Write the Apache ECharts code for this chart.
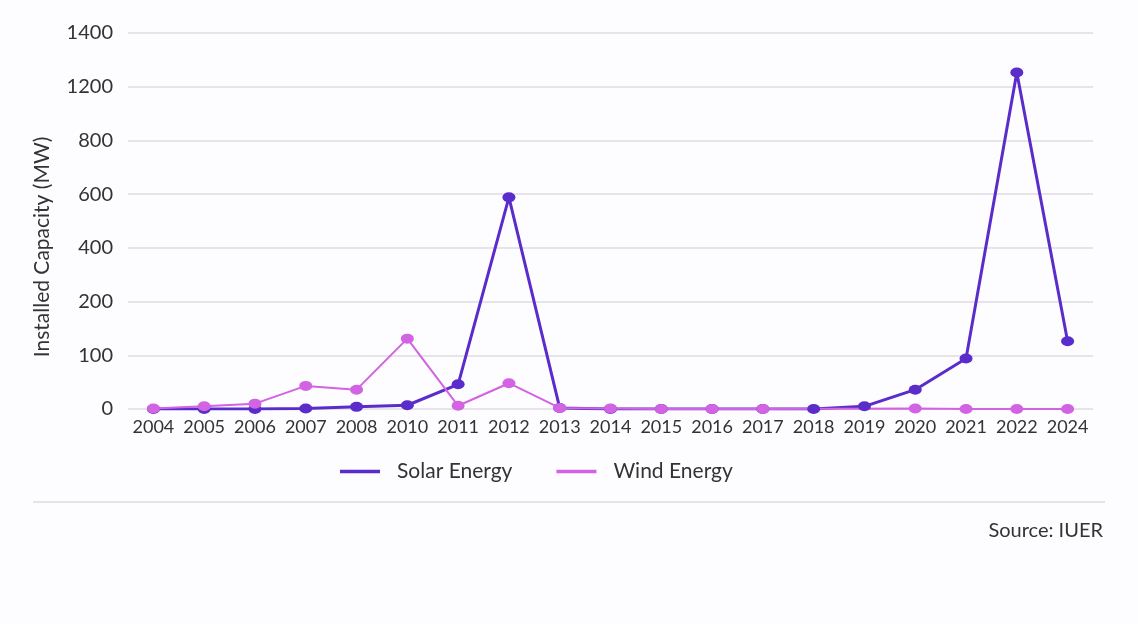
<!DOCTYPE html>
<html>
<head>
<meta charset="utf-8">
<script src="https://cdn.jsdelivr.net/npm/echarts@6/dist/echarts.min.js"></script>
<style>
html,body{margin:0;padding:0;background:#fdfcfe;}
#chart{width:1138px;height:624px;}
</style>
</head>
<body>
<div id="chart"></div>
<script>
const years = ['2004','2005','2006','2007','2008','2010','2011','2012','2013','2014','2015','2016','2017','2018','2019','2020','2021','2022','2024'];
const solarValues = [0,0,0,1,4,7,46,588,2,0,0,0,0,0,5,36,94,1253,126];
const windValues  = [1,5,10,43,36,131,6,48,2,1,0,0,0,null,null,1,0,0,0];
const yTickLabels = [0,100,200,400,600,800,1200,1400];

// piecewise mapping: each labelled tick is one evenly spaced step on the axis
function toAxis(v){
  if (v === null || v === undefined) return null;
  for (let i = 0; i < yTickLabels.length - 1; i++){
    const a = yTickLabels[i], b = yTickLabels[i+1];
    if (v <= b) return i + (v - a) / (b - a);
  }
  return yTickLabels.length - 1;
}

const SOLAR = '#5a2cc9';
const WIND = '#d263e2';
const FONT = 'Lato';

const chart = echarts.init(document.getElementById('chart'));
chart.setOption({
  backgroundColor: '#fdfcfe',
  animation: false,
  grid: {left: 128, right: 45, top: 33, bottom: 215, containLabel: false},
  xAxis: {
    type: 'category',
    data: years,
    boundaryGap: true,
    axisLine: {show: false},
    axisTick: {show: false},
    axisLabel: {interval: 0, margin: 9, color: '#333', fontFamily: FONT, fontSize: 18}
  },
  yAxis: {
    type: 'value',
    min: 0, max: yTickLabels.length - 1, interval: 1,
    axisLine: {show: false},
    axisTick: {show: false},
    splitLine: {lineStyle: {color: '#dedde0', width: 1.5}},
    axisLabel: {
      margin: 15, color: '#333', fontFamily: FONT, fontSize: 20,
      formatter: function(v){ return String(yTickLabels[Math.round(v)]); }
    }
  },
  legend: {
    data: ['Solar Energy', 'Wind Energy'],
    left: 335, top: 456,
    icon: 'rect', itemWidth: 40, itemHeight: 3.5, itemGap: 44,
    textStyle: {color: '#333', fontFamily: FONT, fontSize: 21, padding: [0,0,0,12]}
  },
  series: [
    {
      name: 'Solar Energy', type: 'line',
      data: solarValues.map(toAxis),
      symbol: 'circle', symbolSize: [13, 10],
      lineStyle: {color: SOLAR, width: 3},
      itemStyle: {color: SOLAR}
    },
    {
      name: 'Wind Energy', type: 'line',
      data: windValues.map(toAxis),
      connectNulls: true,
      symbol: 'circle', symbolSize: [13, 10],
      lineStyle: {color: WIND, width: 2},
      itemStyle: {color: WIND}
    }
  ],
  graphic: [
    {
      type: 'text', x: 42, y: 247, rotation: Math.PI / 2,
      style: {text: 'Installed Capacity (MW)', fill: '#333', font: '21px Lato', textAlign: 'center', textVerticalAlign: 'middle'}
    },
    {
      type: 'line', shape: {x1: 33, y1: 502, x2: 1105, y2: 502},
      style: {stroke: '#e4e3e6', lineWidth: 2}
    },
    {
      type: 'text', x: 1103, y: 531,
      style: {text: 'Source: IUER', fill: '#333', font: '20px Lato', textAlign: 'right', textVerticalAlign: 'middle'}
    }
  ]
});
</script>
</body>
</html>
